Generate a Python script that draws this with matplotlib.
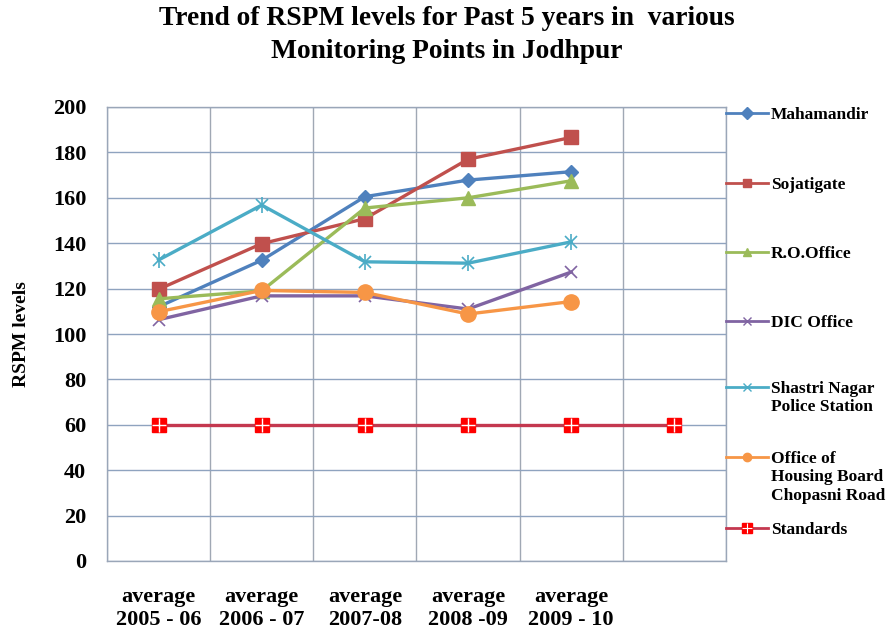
import matplotlib
matplotlib.use("Agg")
from matplotlib import pyplot as plt
from matplotlib.lines import Line2D
import numpy as np

categories = ["average\n2005 - 06", "average\n2006 - 07", "average\n2007-08",
              "average\n2008 -09", "average\n2009 - 10", ""]

mahamandir = [112, 132.5, 160.5, 167.8, 171.5]
sojatigate = [119.7, 139.8, 150.8, 177, 186.6]
ro_office = [115.5, 119, 155.5, 160, 167.5]
dic_office = [106.3, 116.8, 116.8, 111, 127.3]
shastri_nagar = [132.6, 156.8, 131.8, 131.2, 140.6]
housing_board = [109.8, 119.2, 118.3, 108.8, 114.3]
standards = [60, 60, 60, 60, 60, 60]

W, H = 886, 634
plt.rcParams['font.family'] = ['Liberation Serif', 'DejaVu Serif']
plt.rcParams['font.weight'] = 'bold'

fig = plt.figure(figsize=(W / 100, H / 100), dpi=100)
ax = fig.add_axes([107 / W, 1 - 561 / H, (726 - 107) / W, (561 - 107) / H])

grid_c = "#8FA3BF"
x5 = np.arange(5)
x6 = np.arange(6)

series = [
    ("Mahamandir", mahamandir, "#4F81BD", "D", 7),
    ("Sojatigate", sojatigate, "#C0504D", "s", 10),
    ("R.O.Office", ro_office, "#9BBB59", "^", 10),
    ("DIC Office", dic_office, "#8064A2", "x", 9),
    ("Shastri Nagar\nPolice Station", shastri_nagar, "#4BACC6", "x", 9),
    ("Office of\nHousing Board\nChopasni Road", housing_board, "#F79646", "o", 11),
]

for name, vals, col, mk, ms in series:
    ax.plot(x5, vals, color=col, lw=2.4, marker=mk, ms=ms, mew=1.2 if mk == "x" else 1,
            zorder=3)
    if name.startswith("Shastri"):
        ax.plot(x5, vals, color=col, lw=0, marker="|", ms=ms + 2, mew=1.2, zorder=3)

std_line = "#C4384F"
ax.plot(x6, standards, color=std_line, lw=2.4, zorder=3)
ax.plot(x6, standards, lw=0, marker="s", ms=10, color="#FF0000", zorder=4)
ax.plot(x6, standards, lw=0, marker="+", ms=10, mew=1, color="white", zorder=5)

ax.set_xlim(-0.5, 5.5)
ax.set_ylim(0, 200)
ax.set_yticks(np.arange(0, 201, 20))
ax.set_xticks(x6)
ax.set_xticklabels(categories, fontsize=16, fontweight="bold", linespacing=1.15)
ax.set_xticks(np.arange(-0.5, 5.6, 1), minor=True)
ax.tick_params(axis="x", which="both", length=0, pad=19)
ax.tick_params(axis="y", length=0, pad=15, labelsize=16)
ax.grid(axis="y", color=grid_c, lw=1, zorder=0)
ax.grid(axis="x", which="minor", color="#A0A8B4", lw=1, zorder=0)
for s in ax.spines.values():
    s.set_color("#9AA6B8")
    s.set_linewidth(1)

fig.text(22 / W, 1 - 334 / H, "RSPM levels", rotation=90, ha="center", va="center",
         fontsize=14, fontweight="bold")
fig.text(447 / W, 1 - 35 / H,
         "Trend of RSPM levels for Past 5 years in  various\nMonitoring Points in Jodhpur",
         ha="center", va="center", fontsize=19.8, fontweight="bold", linespacing=1.4)

# legend drawn by hand on the right
leg_y = [113, 183, 252, 321, 387, 457, 528]
leg_items = [(n, c, m) for n, _, c, m, _ in series] + [("Standards", std_line, "s")]
for (name, col, mk), y in zip(leg_items, leg_y):
    yf = 1 - y / H
    fig.add_artist(Line2D([726 / W, 768 / W], [yf, yf], color=col, lw=2,
                          transform=fig.transFigure))
    if name == "Standards":
        fig.add_artist(Line2D([747 / W], [yf], lw=0, marker="s", ms=7, color="#FF0000",
                              transform=fig.transFigure))
        fig.add_artist(Line2D([747 / W], [yf], lw=0, marker="+", ms=7, mew=0.8,
                              color="white", transform=fig.transFigure))
    else:
        fig.add_artist(Line2D([747 / W], [yf], lw=0, marker=mk, ms=6, mew=1, color=col,
                              transform=fig.transFigure))
    fig.text(771 / W, 1 - (y - 6) / H, name, ha="left", va="top", fontsize=12.5,
             fontweight="bold", linespacing=1.2)

fig.savefig("out.png", dpi=100, facecolor="white")
